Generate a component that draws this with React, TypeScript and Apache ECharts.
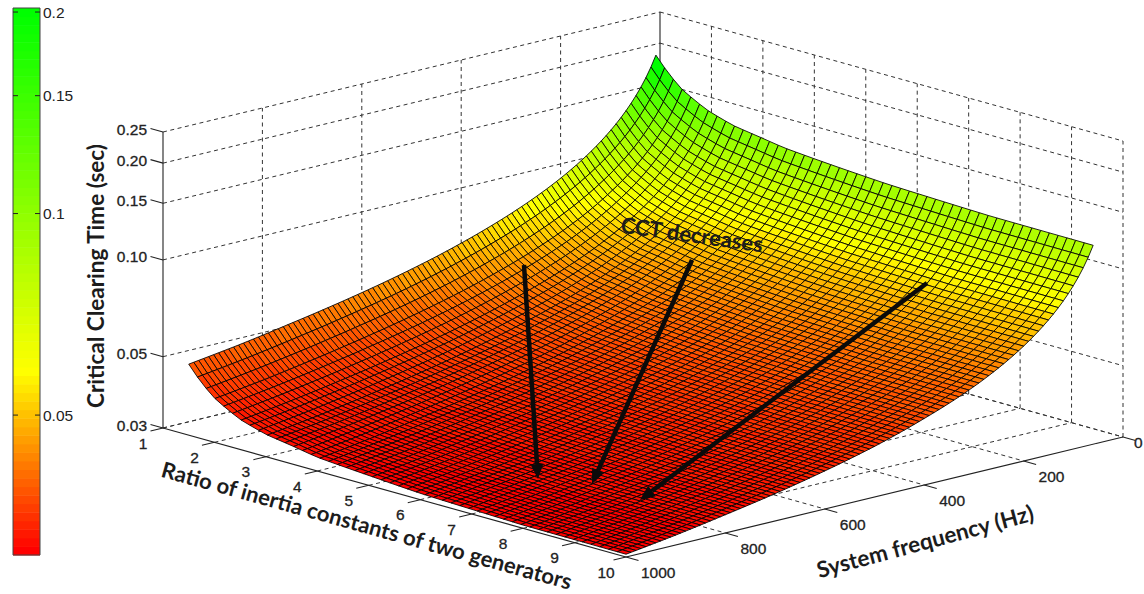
import React, { useEffect, useRef } from "react";
import * as echarts from "echarts";

// Values (CCT in seconds) at these nodes. The dense wire mesh is
// a rendering refinement between these nodes; only the nodes themselves are read values.
const ratioNodes = [1.5, 1.75, 2, 2.5, 3, 3.5, 4, 5, 6, 8, 10];
const freqNodes = [60, 100, 150, 200, 300, 400, 500, 600, 700, 800, 900, 1000];
const cct60 = [0.2035, 0.183, 0.168, 0.152, 0.1435, 0.1394, 0.1353, 0.1313, 0.1282, 0.1252, 0.1247];
const cct100 = [0.1577, 0.1418, 0.1302, 0.1178, 0.1112, 0.108, 0.1049, 0.1018, 0.0994, 0.097, 0.0966];
const cct150 = [0.1288, 0.1158, 0.1063, 0.0962, 0.0908, 0.0882, 0.0856, 0.0831, 0.0812, 0.0793, 0.0789];
const cct200 = [0.1115, 0.1003, 0.0921, 0.0833, 0.0786, 0.0764, 0.0741, 0.072, 0.0703, 0.0686, 0.0683];
const cct300 = [0.091, 0.0818, 0.0751, 0.0679, 0.0641, 0.0623, 0.0605, 0.0587, 0.0573, 0.056, 0.0557];
const cct400 = [0.0788, 0.0708, 0.065, 0.0588, 0.0555, 0.0539, 0.0524, 0.0508, 0.0496, 0.0485, 0.0483];
const cct500 = [0.0704, 0.0633, 0.0581, 0.0526, 0.0497, 0.0482, 0.0468, 0.0454, 0.0444, 0.0433, 0.0431];
const cct600 = [0.0643, 0.0578, 0.0531, 0.048, 0.0453, 0.0441, 0.0428, 0.0415, 0.0405, 0.0396, 0.0394];
const cct700 = [0.0596, 0.0536, 0.0492, 0.0445, 0.042, 0.0408, 0.0396, 0.0385, 0.0376, 0.0367, 0.0365];
const cct800 = [0.0558, 0.0501, 0.046, 0.0416, 0.0393, 0.0382, 0.0371, 0.036, 0.0351, 0.0343, 0.0342];
const cct900 = [0.0525, 0.0472, 0.0433, 0.0392, 0.037, 0.036, 0.0349, 0.0339, 0.0331, 0.0323, 0.0322];
const cct1000 = [0.0499, 0.0448, 0.0412, 0.0372, 0.0352, 0.0342, 0.0331, 0.0322, 0.0314, 0.0307, 0.0306];
const cctRows = [cct60, cct100, cct150, cct200, cct300, cct400, cct500, cct600, cct700, cct800, cct900, cct1000];

const ratioTicks = [1, 2, 3, 4, 5, 6, 7, 8, 9, 10];
const freqTicks = [0, 200, 400, 600, 800, 1000];
const cctTicks = [0.03, 0.05, 0.1, 0.15, 0.2, 0.25];
const cctTickLabels = ["0.03", "0.05", "0.10", "0.15", "0.20", "0.25"];
const barTicks = [0.05, 0.1, 0.15, 0.2];

const MESH_R = 50;
const MESH_F = 94;
const FONT_TICK = "'Liberation Sans', Arial, sans-serif";
const FONT_TITLE = "Lato, 'Noto Sans', sans-serif";

// --- fixed view of the 3-D box (it is an orthographic view) ---
const ORIGIN = [163, 428];
const R_VEC = [463 / 9, 129 / 9];
const F_VEC = [497 / 1000, -120 / 1000];
const Z_K = 296 / Math.log(0.25 / 0.03);

function project(r: number, f: number, z: number): number[] {
  return [
    ORIGIN[0] + (r - 1) * R_VEC[0] + (1000 - f) * F_VEC[0],
    ORIGIN[1] + (r - 1) * R_VEC[1] + (1000 - f) * F_VEC[1] - Z_K * Math.log(z / 0.03),
  ];
}

function bracket(nodes: number[], v: number): [number, number] {
  let i = 0;
  while (i < nodes.length - 2 && v > nodes[i + 1]) i++;
  const t = (Math.log(v) - Math.log(nodes[i])) / (Math.log(nodes[i + 1]) - Math.log(nodes[i]));
  return [i, t];
}

function surfaceValue(r: number, f: number): number {
  const [ri, rt] = bracket(ratioNodes, r);
  const [fi, ft] = bracket(freqNodes, f);
  const l = (a: number, b: number, t: number) => a + (b - a) * t;
  const a = l(Math.log(cctRows[fi][ri]), Math.log(cctRows[fi][ri + 1]), rt);
  const b = l(Math.log(cctRows[fi + 1][ri]), Math.log(cctRows[fi + 1][ri + 1]), rt);
  return Math.exp(l(a, b, ft));
}

function colormap(t: number): string {
  const i = Math.max(0, Math.min(63, Math.floor(t * 64)));
  if (i < 21) return `rgb(255,${Math.round((255 * i) / 21)},0)`;
  return `rgb(${Math.round(255 * (1 - (i - 21) / 42))},255,0)`;
}

const rAt = (i: number) => 1.5 + ((10 - 1.5) * i) / MESH_R;
const fAt = (j: number) => 60 + ((1000 - 60) * j) / MESH_F;

type Seg = { a: number[]; b: number[]; solid?: boolean };
function buildFrame(): Seg[] {
  const zLo = 0.03;
  const zHi = 0.25;
  const segs: Seg[] = [];
  for (const z of cctTicks) {
    segs.push({ a: project(1, 1000, z), b: project(1, 0, z) });
    segs.push({ a: project(1, 0, z), b: project(10, 0, z) });
  }
  for (const f of freqTicks) {
    segs.push({ a: project(1, f, zLo), b: project(1, f, zHi), solid: f === 1000 || f === 0 });
    if (f !== 1000) segs.push({ a: project(1, f, zLo), b: project(10, f, zLo) });
  }
  for (const r of ratioTicks) {
    if (r !== 1) segs.push({ a: project(r, 0, zLo), b: project(r, 0, zHi) });
    if (r !== 10) segs.push({ a: project(r, 1000, zLo), b: project(r, 0, zLo) });
  }
  segs.push({ a: project(1, 1000, zLo), b: project(10, 1000, zLo), solid: true });
  segs.push({ a: project(10, 1000, zLo), b: project(10, 0, zLo), solid: true });
  for (const r of ratioTicks) {
    const p = project(r, 1000, zLo);
    segs.push({ a: p, b: [p[0] - 12.5, p[1] + 3], solid: true });
  }
  for (const f of freqTicks) {
    const p = project(10, f, zLo);
    segs.push({ a: p, b: [p[0] + 12.5, p[1] + 3.5], solid: true });
  }
  for (const z of cctTicks) {
    const p = project(1, 1000, z);
    segs.push({ a: p, b: [p[0] - 12.5, p[1] - 3.5], solid: true });
  }
  return segs;
}

type Label = { text: string; x: number; y: number; align: string };
function buildLabels(): Label[] {
  const out: Label[] = [];
  ratioTicks.forEach((r) => {
    const p = project(r, 1000, 0.03);
    out.push({ text: String(r), x: p[0] - 20, y: p[1] + 15, align: "center" });
  });
  freqTicks.forEach((f) => {
    const p = project(10, f, 0.03);
    out.push({ text: String(f), x: p[0] + (f === 0 ? 11 : 15), y: p[1] + (f === 0 ? 5 : 15), align: "left" });
  });
  cctTicks.forEach((z, i) => {
    const p = project(1, 1000, z);
    out.push({ text: cctTickLabels[i], x: p[0] - 16, y: p[1] - 3, align: "right" });
  });
  return out;
}

const arrows = [
  [524, 265, 538, 479],
  [692, 260, 592, 484],
  [927, 283, 640, 500],
];

function arrowGraphics() {
  const els: any[] = [];
  for (const [x1, y1, x2, y2] of arrows) {
    const len = Math.hypot(x2 - x1, y2 - y1);
    const ux = (x2 - x1) / len;
    const uy = (y2 - y1) / len;
    const bx = x2 - ux * 15;
    const by = y2 - uy * 15;
    els.push({
      type: "line",
      z: 100,
      silent: true,
      shape: { x1, y1, x2: bx, y2: by },
      style: { stroke: "#0a0a0a", lineWidth: 4.5 },
    });
    els.push({
      type: "polygon",
      z: 100,
      silent: true,
      shape: {
        points: [
          [x2, y2],
          [bx - uy * 6.5, by + ux * 6.5],
          [bx + uy * 6.5, by - ux * 6.5],
        ],
      },
      style: { fill: "#0a0a0a" },
    });
  }
  return els;
}

function titleText(text: string, x: number, y: number, deg: number, size: number) {
  return {
    type: "text",
    x,
    y,
    z: 100,
    silent: true,
    rotation: (deg * Math.PI) / 180,
    style: {
      text,
      fill: "#1c1c1c",
      font: `bold ${size}px ${FONT_TITLE}`,
      textAlign: "center",
      textVerticalAlign: "middle",
    },
  };
}

export default function App() {
  const ref = useRef<HTMLDivElement>(null);
  useEffect(() => {
    if (!ref.current) return;
    const chart = echarts.init(ref.current, undefined, { renderer: "svg" });

    const frame = buildFrame();
    const labels = buildLabels();
    const cells: number[][] = [];
    for (let i = 0; i < MESH_R; i++) for (let j = 0; j < MESH_F; j++) cells.push([i, j]);
    const bands = Array.from({ length: 64 }, (_, i) => [i]);
    const BAR_MIN = 0.0309;
    const BAR_MAX = 0.2028;

    chart.setOption({
      animation: false,
      backgroundColor: "#ffffff",
      grid: [
        { left: 0, right: 0, top: 0, bottom: 0, show: false },
        {
          left: 13,
          top: 8,
          width: 27,
          height: 547,
          show: true,
          borderColor: "#444444",
          borderWidth: 1,
          backgroundColor: "transparent",
          z: 3,
        },
      ],
      xAxis: [
        { type: "value", gridIndex: 0, min: 0, max: 1144, show: false },
        { type: "value", gridIndex: 1, min: 0, max: 1, show: false },
      ],
      yAxis: [
        { type: "value", gridIndex: 0, min: 0, max: 594, inverse: true, show: false },
        {
          type: "log",
          gridIndex: 1,
          min: BAR_MIN,
          max: BAR_MAX,
          position: "right",
          axisLine: { show: false },
          splitLine: { show: false },
          minorTick: { show: false },
          axisTick: { show: false },
          axisLabel: {
            show: true,
            customValues: barTicks,
            margin: 3,
            color: "#222",
            fontFamily: FONT_TICK,
            fontSize: 15.5,
            formatter: (v: number) => String(Math.round(v * 100) / 100),
          },
          z: 5,
        },
      ],
      series: [
        {
          type: "custom",
          name: "frame",
          xAxisIndex: 0,
          yAxisIndex: 0,
          z: 1,
          silent: true,
          clip: false,
          data: frame.map((_, i) => [i, i]),
          renderItem: (params: any, api: any) => {
            const s = frame[params.dataIndex];
            const a = api.coord(s.a);
            const b = api.coord(s.b);
            return {
              type: "line",
              shape: { x1: a[0], y1: a[1], x2: b[0], y2: b[1] },
              style: s.solid
                ? { stroke: "#222222", lineWidth: 1.1 }
                : { stroke: "#333333", lineWidth: 1, lineDash: [4, 3.5] },
            };
          },
        },
        {
          type: "custom",
          name: "CCT surface",
          xAxisIndex: 0,
          yAxisIndex: 0,
          z: 2,
          silent: true,
          clip: false,
          data: cells,
          renderItem: (params: any, api: any) => {
            const [i, j] = cells[params.dataIndex];
            const corners = [
              [rAt(i), fAt(j)],
              [rAt(i + 1), fAt(j)],
              [rAt(i + 1), fAt(j + 1)],
              [rAt(i), fAt(j + 1)],
            ];
            const z0 = surfaceValue(rAt(i), fAt(j));
            const t = (z0 - 0.0306) / (0.2035 - 0.0306);
            const points = corners.map(([r, f]) => api.coord(project(r, f, surfaceValue(r, f))));
            return {
              type: "polygon",
              shape: { points },
              style: { fill: colormap(t), stroke: "#000000", lineWidth: 0.85 },
            };
          },
        },
        {
          type: "custom",
          name: "tick labels",
          xAxisIndex: 0,
          yAxisIndex: 0,
          z: 4,
          silent: true,
          clip: false,
          data: labels.map((_, i) => [i, i]),
          renderItem: (params: any, api: any) => {
            const l = labels[params.dataIndex];
            const p = api.coord([l.x, l.y]);
            return {
              type: "text",
              x: p[0],
              y: p[1],
              style: {
                text: l.text,
                fill: "#222222",
                font: `15.5px ${FONT_TICK}`,
                textAlign: l.align,
                textVerticalAlign: "middle",
                stroke: "#222222",
                lineWidth: 0.3,
              },
            };
          },
        },
        {
          type: "custom",
          name: "colour bar",
          xAxisIndex: 1,
          yAxisIndex: 1,
          z: 2,
          silent: true,
          clip: false,
          data: bands,
          renderItem: (params: any, api: any) => {
            const i = params.dataIndex;
            const ratio = BAR_MAX / BAR_MIN;
            const lo = BAR_MIN * Math.pow(ratio, i / 64);
            const hi = BAR_MIN * Math.pow(ratio, (i + 1) / 64);
            const a = api.coord([0, hi]);
            const b = api.coord([1, lo]);
            return {
              type: "rect",
              shape: { x: a[0], y: a[1], width: b[0] - a[0], height: b[1] - a[1] + 0.5 },
              style: { fill: colormap((i + 0.5) / 64) },
            };
          },
        },
        {
          type: "custom",
          name: "colour bar ticks",
          xAxisIndex: 1,
          yAxisIndex: 1,
          z: 4,
          silent: true,
          clip: false,
          data: barTicks.map((v) => [0, v]),
          renderItem: (params: any, api: any) => {
            const p = api.coord([0, barTicks[params.dataIndex]]);
            const q = api.coord([1, barTicks[params.dataIndex]]);
            return {
              type: "group",
              children: [
                { type: "line", shape: { x1: p[0], y1: p[1], x2: p[0] + 5, y2: p[1] }, style: { stroke: "#222", lineWidth: 1 } },
                { type: "line", shape: { x1: q[0] - 5, y1: q[1], x2: q[0], y2: q[1] }, style: { stroke: "#222", lineWidth: 1 } },
              ],
            };
          },
        },
      ],
      graphic: [
        ...arrowGraphics(),
        titleText("Critical Clearing Time (sec)", 95, 276, 90, 22.5),
        titleText("Ratio of inertia constants of two generators", 367, 525, -15.5, 22),
        titleText("System frequency (Hz)", 925, 541, 15, 22.5),
        titleText("CCT decreases", 692, 234, -8, 22),
      ],
    });
    return () => chart.dispose();
  }, []);
  return <div ref={ref} style={{ position: "absolute", left: 0, top: 0, width: 1144, height: 594 }} />;
}
